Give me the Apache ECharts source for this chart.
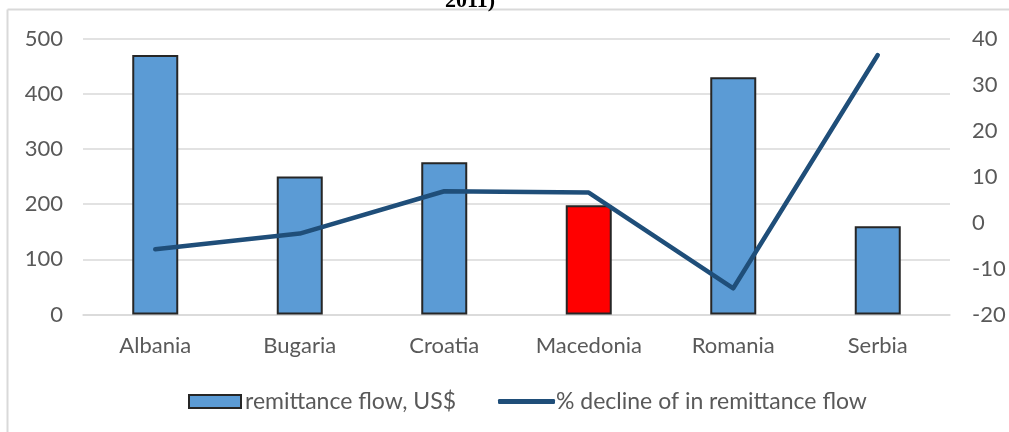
<!DOCTYPE html>
<html>
<head>
<meta charset="utf-8">
<script src="https://cdn.jsdelivr.net/npm/echarts@6/dist/echarts.min.js"></script>
<style>html,body{margin:0;padding:0;background:#fff}#c{width:1009px;height:432px}</style>
</head>
<body>
<div id="c"></div>
<script>
var categories = ['Albania', 'Bugaria', 'Croatia', 'Macedonia', 'Romania', 'Serbia'];
var remittance = [470, 250, 276, 198, 430, 160];
var decline = [-5.8, -2.4, 6.8, 6.5, -14.3, 36.4];
var leftTicks = [0, 500, 100];
var rightTicks = [-20, 40, 10];
var highlightIndex = 3;

var font = 'Lato, "Noto Sans", sans-serif';
var gray = '#595959';
var chart = echarts.init(document.getElementById('c'), null, {renderer: 'canvas'});
chart.setOption({
  animation: false,
  backgroundColor: '#fff',
  grid: {left: 83, right: 59, top: 38.5, bottom: 117.5, containLabel: false},
  graphic: [
    {type: 'line', shape: {x1: 7.5, y1: 9.5, x2: 1009, y2: 9.5}, style: {stroke: '#d9d9d9', lineWidth: 2}},
    {type: 'line', shape: {x1: 7.5, y1: 9.5, x2: 7.5, y2: 432}, style: {stroke: '#d9d9d9', lineWidth: 2}},
    {type: 'text', left: 445, top: -10, style: {text: '2011)', font: 'bold 22px "Liberation Serif", serif', fill: '#000'}}
  ],
  legend: [
    {left: 183, top: 385, itemWidth: 52, itemHeight: 13,
     data: [{name: 'remittance flow, US$', icon: 'rect'}],
     textStyle: {color: gray, fontSize: 23, fontFamily: font, padding: [0, 0, 0, -1]}},
    {left: 493, top: 385, itemWidth: 57, itemHeight: 5,
     data: [{name: '% decline of in remittance flow', icon: 'roundRect', itemStyle: {color: '#1F4E79', borderWidth: 0}}],
     textStyle: {color: gray, fontSize: 23, fontFamily: font, padding: [0, 0, 0, -4]}}
  ],
  xAxis: {
    type: 'category', data: categories,
    axisLine: {lineStyle: {color: '#d9d9d9', width: 1.5}},
    axisTick: {show: false},
    axisLabel: {color: gray, fontSize: 22, fontFamily: font, margin: 20}
  },
  yAxis: [
    {type: 'value', min: leftTicks[0], max: leftTicks[1], interval: leftTicks[2],
     axisLine: {show: false}, axisTick: {show: false},
     axisLabel: {color: gray, fontSize: 22, fontFamily: font, margin: 20},
     splitLine: {lineStyle: {color: '#d9d9d9', width: 1.5}}},
    {type: 'value', min: rightTicks[0], max: rightTicks[1], interval: rightTicks[2],
     axisLine: {show: false}, axisTick: {show: false},
     axisLabel: {color: gray, fontSize: 22, fontFamily: font, margin: 22},
     splitLine: {show: false}}
  ],
  series: [
    {name: 'remittance flow, US$', type: 'bar', yAxisIndex: 0, barWidth: 46,
     itemStyle: {color: '#5B9BD5', borderColor: '#262626', borderWidth: 2},
     data: remittance.map(function (v, i) {
       return i === highlightIndex ? {value: v, itemStyle: {color: '#FF0000'}} : v;
     })},
    {name: '% decline of in remittance flow', type: 'line', yAxisIndex: 1,
     symbol: 'none', z: 5,
     itemStyle: {color: '#1F4E79'},
     lineStyle: {color: '#1F4E79', width: 4.5, cap: 'round', join: 'round'},
     data: decline}
  ]
});
</script>
</body>
</html>
